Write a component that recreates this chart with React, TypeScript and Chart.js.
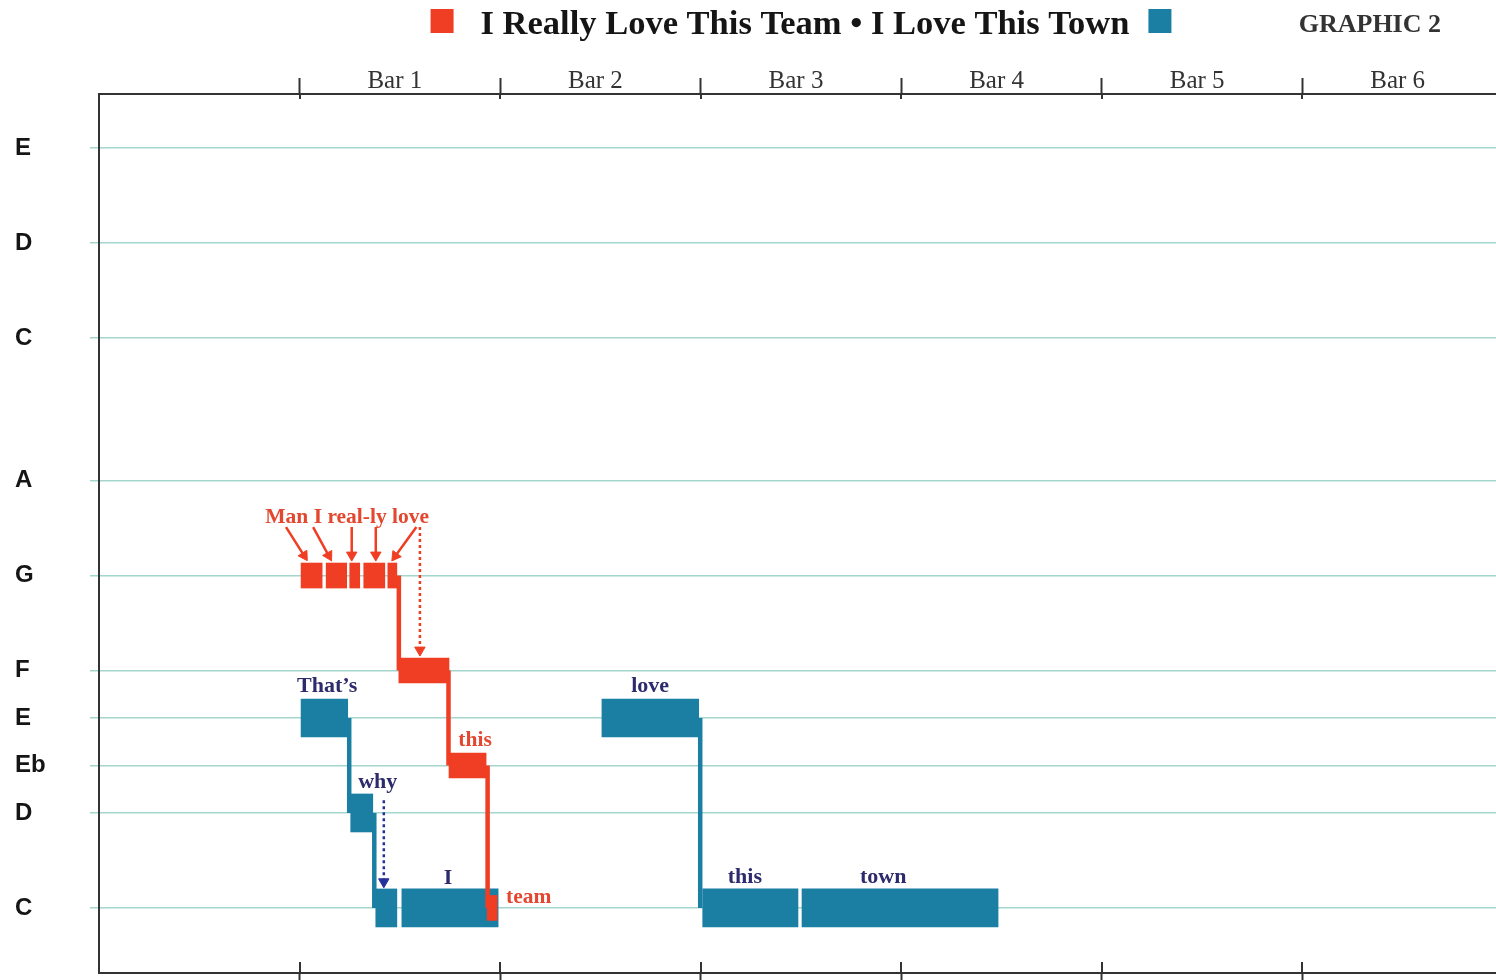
import React, { useEffect, useRef } from "react";
import { Chart, registerables } from "chart.js";

Chart.register(...registerables);

const TEAL = "#1b7fa4";
const RED = "#ef3e23";
const NAVY = "#2d2b6c";
const RED_TEXT = "#e4472f";
const GRID = "#a3d6cd";
const AXIS = "#333333";

// ---- pitch axis (semitones above low C) ----
const pitchValues = [0, 2, 3, 4, 5, 7, 9, 12, 14, 16];
const pitchNames = ["C", "D", "Eb", "E", "F", "G", "A", "C", "D", "E"];

// ---- time axis (beats) ----
const barStarts = [4, 8, 12, 16, 20, 24];
const barLabels = ["Bar 1", "Bar 2", "Bar 3", "Bar 4", "Bar 5", "Bar 6"];
const barLabelBeat = [5.9, 9.9, 13.9, 17.9, 21.9, 25.9];

const seriesNames = ["I Really Love This Team", "I Love This Town"];
const graphicLabel = "GRAPHIC 2";

// ---- red melody: "Man I real-ly love this team" ----
const redStart = [4.03, 4.53, 5.0, 5.28, 5.76, 5.98, 6.98, 7.74];
const redEnd = [4.45, 4.94, 5.2, 5.7, 5.94, 6.98, 7.72, 7.94];
const redPitch = [7, 7, 7, 7, 7, 5, 3, 0];

const redStemX = [5.98, 6.97, 7.75];
const redStemFrom = [7, 5, 3];
const redStemTo = [5, 3, 0];

// ---- teal melody: "That's why I love this town" ----
const tealStart = [4.03, 5.02, 5.52, 6.04, 10.03, 12.04, 14.02];
const tealEnd = [4.96, 5.46, 5.94, 7.96, 11.96, 13.94, 17.93];
const tealPitch = [4, 2, 0, 0, 4, 0, 0];

const tealStemX = [4.99, 5.49, 11.99];
const tealStemFrom = [4, 2, 4];
const tealStemTo = [2, 0, 0];

// ---- lyrics ----
const tealLyrics = ["That\u2019s", "why", "I", "love", "this", "town"];
const tealLyricX = [4.55, 5.56, 6.96, 10.99, 12.88, 15.64];
const tealLyricY = [4.55, 2.53, 0.5, 4.54, 0.53, 0.53];

const redLyrics = ["Man I real-ly love", "this", "team"];
const redLyricX = [4.95, 7.5, 8.57];
const redLyricY = [8.1, 3.41, 0.1];

// ---- arrows (tail -> head) ----
const redArrowX1 = [3.73, 4.27, 5.04, 5.52, 6.33];
const redArrowY1 = [8.02, 8.02, 8.02, 8.02, 8.02];
const redArrowX2 = [4.09, 4.58, 5.04, 5.52, 5.91];
const redArrowY2 = [7.42, 7.42, 7.43, 7.43, 7.41];

const redDotX1 = [6.4];
const redDotY1 = [8.02];
const redDotX2 = [6.4];
const redDotY2 = [5.43];

const navyDotX1 = [5.68];
const navyDotY1 = [2.27];
const navyDotX2 = [5.68];
const navyDotY2 = [0.55];

const stemData = (xs: number[], from: number[], to: number[]) =>
  xs.flatMap((x, i) => [
    { x, y: from[i] },
    { x, y: to[i] },
    { x, y: null as any },
  ]);

const arrowData = (x1: number[], y1: number[], x2: number[], y2: number[]) =>
  x1.flatMap((x, i) => [
    { x, y: y1[i] },
    { x: x2[i], y: y2[i] },
    { x: x2[i], y: null as any },
  ]);

const arrowRotation =
  (x1: number[], y1: number[], x2: number[], y2: number[]) => (ctx: any) => {
    const i = ctx.dataIndex;
    if (i % 3 !== 1) return 0;
    const k = (i - 1) / 3;
    const xs = ctx.chart.scales.x;
    const ys = ctx.chart.scales.y;
    const dx = xs.getPixelForValue(x2[k]) - xs.getPixelForValue(x1[k]);
    const dy = ys.getPixelForValue(y2[k]) - ys.getPixelForValue(y1[k]);
    return (Math.atan2(dx, -dy) * 180) / Math.PI;
  };

const headRadius = (r: number) => (ctx: any) => (ctx.dataIndex % 3 === 1 ? r : 0);

const innerTicksPlugin = {
  id: "innerTicks",
  afterDraw(chart: any) {
    const { ctx, chartArea } = chart;
    const top = chart.scales.x;
    ctx.save();
    ctx.strokeStyle = AXIS;
    ctx.lineWidth = 2;
    barStarts.forEach((v) => {
      const px = Math.round(top.getPixelForValue(v));
      ctx.beginPath();
      ctx.moveTo(px, chartArea.top);
      ctx.lineTo(px, chartArea.top + 5);
      ctx.moveTo(px, chartArea.bottom - 11);
      ctx.lineTo(px, chartArea.bottom);
      ctx.stroke();
    });
    ctx.restore();
  },
};

const lyricsPlugin = {
  id: "lyrics",
  afterDatasetsDraw(chart: any) {
    const { ctx } = chart;
    const xs = chart.scales.x;
    const ys = chart.scales.y;
    ctx.save();
    ctx.font = 'bold 22px "Liberation Serif", "Times New Roman", serif';
    ctx.textAlign = "center";
    ctx.textBaseline = "alphabetic";
    ctx.fillStyle = NAVY;
    tealLyrics.forEach((t, i) => {
      ctx.fillText(t, xs.getPixelForValue(tealLyricX[i]), ys.getPixelForValue(tealLyricY[i]));
    });
    ctx.fillStyle = RED_TEXT;
    ctx.font = 'bold 21.5px "Liberation Serif", "Times New Roman", serif';
    redLyrics.forEach((t, i) => {
      ctx.fillText(t, xs.getPixelForValue(redLyricX[i]), ys.getPixelForValue(redLyricY[i]));
    });
    ctx.restore();
  },
};

const headerPlugin = {
  id: "header",
  afterDraw(chart: any) {
    const { ctx, chartArea } = chart;
    const title = seriesNames.join(" \u2022 ");
    ctx.save();
    ctx.font = 'bold 34.5px "Liberation Serif", "Times New Roman", serif';
    const w = ctx.measureText(title).width;
    const sq = 23;
    const gap1 = 27;
    const gap2 = 19;
    const total = sq + gap1 + w + gap2 + sq;
    const cx = (chartArea.left + chartArea.right) / 2;
    const x0 = cx - total / 2;
    ctx.fillStyle = RED;
    ctx.fillRect(x0, 9, sq, 24);
    ctx.fillStyle = "#151515";
    ctx.textAlign = "left";
    ctx.textBaseline = "alphabetic";
    ctx.fillText(title, x0 + sq + gap1, 34);
    ctx.fillStyle = TEAL;
    ctx.fillRect(x0 + sq + gap1 + w + gap2, 9, sq, 24);
    ctx.fillStyle = AXIS;
    ctx.font = 'bold 26px "Liberation Serif", "Times New Roman", serif';
    ctx.textAlign = "right";
    ctx.fillText(graphicLabel, chartArea.right - 62, 32);
    ctx.restore();
  },
};

export default function App() {
  const canvasRef = useRef<HTMLCanvasElement | null>(null);

  useEffect(() => {
    if (!canvasRef.current) return;
    const redBars = redStart.map((s, i) => ({ x: [s, redEnd[i]], y: redPitch[i] }));
    const tealBars = tealStart.map((s, i) => ({ x: [s, tealEnd[i]], y: tealPitch[i] }));

    const chart = new Chart(canvasRef.current, {
      type: "bar",
      data: {
        datasets: [
          {
            type: "line",
            label: "red arrows",
            data: arrowData(redArrowX1, redArrowY1, redArrowX2, redArrowY2),
            borderColor: RED,
            borderWidth: 2.5,
            pointStyle: "triangle",
            pointRadius: headRadius(6),
            pointRotation: arrowRotation(redArrowX1, redArrowY1, redArrowX2, redArrowY2),
            pointBackgroundColor: RED,
            pointBorderColor: RED,
            pointBorderWidth: 1,
            spanGaps: false,
            fill: false,
            order: 0,
            xAxisID: "x",
            yAxisID: "y",
          },
          {
            type: "line",
            label: "red dotted arrow",
            data: arrowData(redDotX1, redDotY1, redDotX2, redDotY2),
            borderColor: RED,
            borderWidth: 2.5,
            borderDash: [3, 3],
            pointStyle: "triangle",
            pointRadius: headRadius(6),
            pointRotation: arrowRotation(redDotX1, redDotY1, redDotX2, redDotY2),
            pointBackgroundColor: RED,
            pointBorderColor: RED,
            pointBorderWidth: 1,
            spanGaps: false,
            fill: false,
            order: 0,
            xAxisID: "x",
            yAxisID: "y",
          },
          {
            type: "line",
            label: "navy dotted arrow",
            data: arrowData(navyDotX1, navyDotY1, navyDotX2, navyDotY2),
            borderColor: "#26309a",
            borderWidth: 2.5,
            borderDash: [3, 3],
            pointStyle: "triangle",
            pointRadius: headRadius(6),
            pointRotation: arrowRotation(navyDotX1, navyDotY1, navyDotX2, navyDotY2),
            pointBackgroundColor: "#26309a",
            pointBorderColor: "#26309a",
            pointBorderWidth: 1,
            spanGaps: false,
            fill: false,
            order: 0,
            xAxisID: "x",
            yAxisID: "y",
          },
          {
            type: "line",
            label: "red stems",
            data: stemData(redStemX, redStemFrom, redStemTo),
            borderColor: RED,
            borderWidth: 4.5,
            borderCapStyle: "butt",
            pointRadius: 0,
            spanGaps: false,
            fill: false,
            order: 1,
            xAxisID: "x",
            yAxisID: "y",
          },
          {
            type: "bar",
            label: seriesNames[0],
            data: redBars as any,
            indexAxis: "y",
            grouped: false,
            barThickness: 25,
            backgroundColor: RED,
            borderWidth: 0,
            order: 2,
            xAxisID: "x",
            yAxisID: "y",
          },
          {
            type: "line",
            label: "teal stems",
            data: stemData(tealStemX, tealStemFrom, tealStemTo),
            borderColor: TEAL,
            borderWidth: 4.5,
            borderCapStyle: "butt",
            pointRadius: 0,
            spanGaps: false,
            fill: false,
            order: 3,
            xAxisID: "x",
            yAxisID: "y",
          },
          {
            type: "bar",
            label: seriesNames[1],
            data: tealBars as any,
            indexAxis: "y",
            grouped: false,
            barThickness: 38,
            backgroundColor: TEAL,
            borderWidth: 0,
            order: 4,
            xAxisID: "x",
            yAxisID: "y",
          },
        ] as any,
      },
      options: {
        animation: false,
        responsive: false,
        events: [],
        layout: { padding: { left: 15, top: 40, right: 0, bottom: 0 } },
        plugins: {
          legend: { display: false },
          tooltip: { enabled: false },
          title: { display: false },
        },
        scales: {
          x: {
            type: "linear",
            position: "top",
            min: 0,
            max: 28,
            offset: false,
            afterFit: (scale: any) => {
              scale.height = 54;
            },
            afterBuildTicks: (scale: any) => {
              scale.ticks = barStarts.flatMap((b, i) => [{ value: b }, { value: barLabelBeat[i] }]);
            },
            ticks: {
              autoSkip: false,
              maxRotation: 0,
              padding: -18,
              color: AXIS,
              font: { family: '"Liberation Serif", "Times New Roman", serif', size: 25 },
              callback: (_v: any, index: number) =>
                index % 2 === 1 ? barLabels[(index - 1) / 2] : "",
            },
            grid: {
              offset: false,
              drawOnChartArea: false,
              drawTicks: true,
              tickLength: 16,
              tickWidth: 2,
              tickColor: (ctx: any) => (ctx.index % 2 === 0 ? AXIS : "rgba(0,0,0,0)"),
            },
            border: { display: true, color: AXIS, width: 2 },
          },
          x2: {
            type: "linear",
            position: "bottom",
            min: 0,
            max: 28,
            offset: false,
            afterFit: (scale: any) => {
              scale.height = 7;
            },
            afterBuildTicks: (scale: any) => {
              scale.ticks = barStarts.map((b) => ({ value: b }));
            },
            ticks: { display: false },
            grid: {
              offset: false,
              drawOnChartArea: false,
              drawTicks: true,
              tickLength: 7,
              tickWidth: 2,
              tickColor: AXIS,
            },
            border: { display: true, color: AXIS, width: 2 },
          },
          y: {
            type: "linear",
            position: "left",
            min: -1.37,
            max: 17.14,
            offset: false,
            afterFit: (scale: any) => {
              scale.width = 84;
            },
            afterBuildTicks: (scale: any) => {
              scale.ticks = pitchValues.map((v) => ({ value: v }));
            },
            ticks: {
              autoSkip: false,
              crossAlign: "far",
              padding: -15,
              color: "#151515",
              font: { family: '"Liberation Sans", Arial, sans-serif', size: 24, weight: "bold" },
              callback: (value: any) => {
                const k = pitchValues.indexOf(Number(value));
                return k >= 0 ? pitchNames[k] : "";
              },
            },
            grid: {
              offset: false,
              color: GRID,
              lineWidth: 1.5,
              drawTicks: true,
              tickLength: 9,
              tickColor: GRID,
            },
            border: { display: true, color: AXIS, width: 2 },
          },
        } as any,
      },
      plugins: [innerTicksPlugin, lyricsPlugin, headerPlugin],
    } as any);

    return () => chart.destroy();
  }, []);

  return (
    <div
      style={{
        position: "fixed",
        left: 0,
        top: 0,
        width: 1496,
        height: 980,
        overflow: "hidden",
        background: "#ffffff",
      }}
    >
      <canvas ref={canvasRef} width={1503} height={980} style={{ display: "block" }} />
    </div>
  );
}
